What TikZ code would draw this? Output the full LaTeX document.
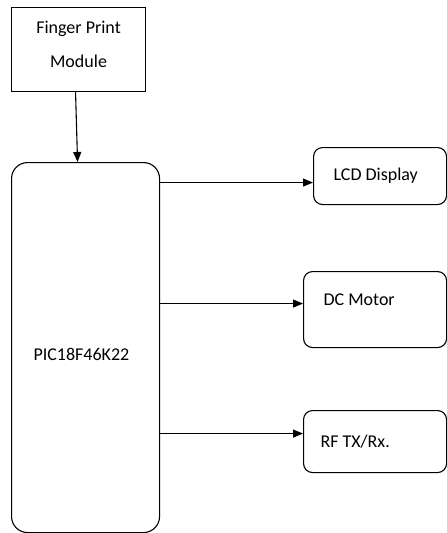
\documentclass[tikz,border=0pt]{standalone}
\usepackage{fontspec}
\setmainfont{Carlito}
\usepackage{tikz}
\usetikzlibrary{arrows.meta,positioning}

\tikzset{
  blk/.style={draw,line width=1.1pt,rounded corners=9pt,anchor=north west,inner sep=0pt},
  sq/.style={draw,line width=1.1pt,anchor=north west,inner sep=0pt},
  lbl/.style={font=\fontsize{18}{34}\selectfont},
  conn/.style={line width=1.1pt,-{Triangle[length=10pt,width=8pt]}}
}

\begin{document}
\begin{tikzpicture}[x=1pt,y=-1pt]
  \useasboundingbox (0,0) rectangle (447,533);
  % sensor and controller
  \node[sq,minimum width=134pt,minimum height=84pt] (fp) at (11,7) {};
  \node[lbl,align=center] (fptext) at ([yshift=5pt]fp.center) {Finger Print\\Module};
  \node[blk,rounded corners=16pt,minimum width=148pt,minimum height=370pt] (pic) at (11,162) {};
  \node[lbl,anchor=base west] (pictext) at (30,360) {PIC18F46K22};
  % outputs
  \node[blk,minimum width=133pt,minimum height=57pt] (lcd) at (313,147) {};
  \node[lbl,anchor=base west] (lcdtext) at (330,180) {LCD Display};
  \node[blk,minimum width=143pt,minimum height=76pt] (dc) at (303,271) {};
  \node[lbl,anchor=base west] (dctext) at (320,305) {DC Motor};
  \node[blk,minimum width=143pt,minimum height=62pt] (rf) at (303,410) {};
  \node[lbl,anchor=base west] (rftext) at (317,447) {RF TX/Rx.};

  \coordinate (lcdin) at ([yshift=-6.5pt]lcd.west);
  \coordinate (dcin) at ([yshift=6pt]dc.west);
  \coordinate (rfin) at ([yshift=8pt]rf.west);
  \draw[conn] ([xshift=-3pt]fp.south) -- ([xshift=-8pt]pic.north);
  \draw[conn] (pic.east |- lcdin) -- (lcdin);
  \draw[conn] (pic.east |- dcin) -- (dcin);
  \draw[conn] (pic.east |- rfin) -- (rfin);
\end{tikzpicture}
\end{document}
